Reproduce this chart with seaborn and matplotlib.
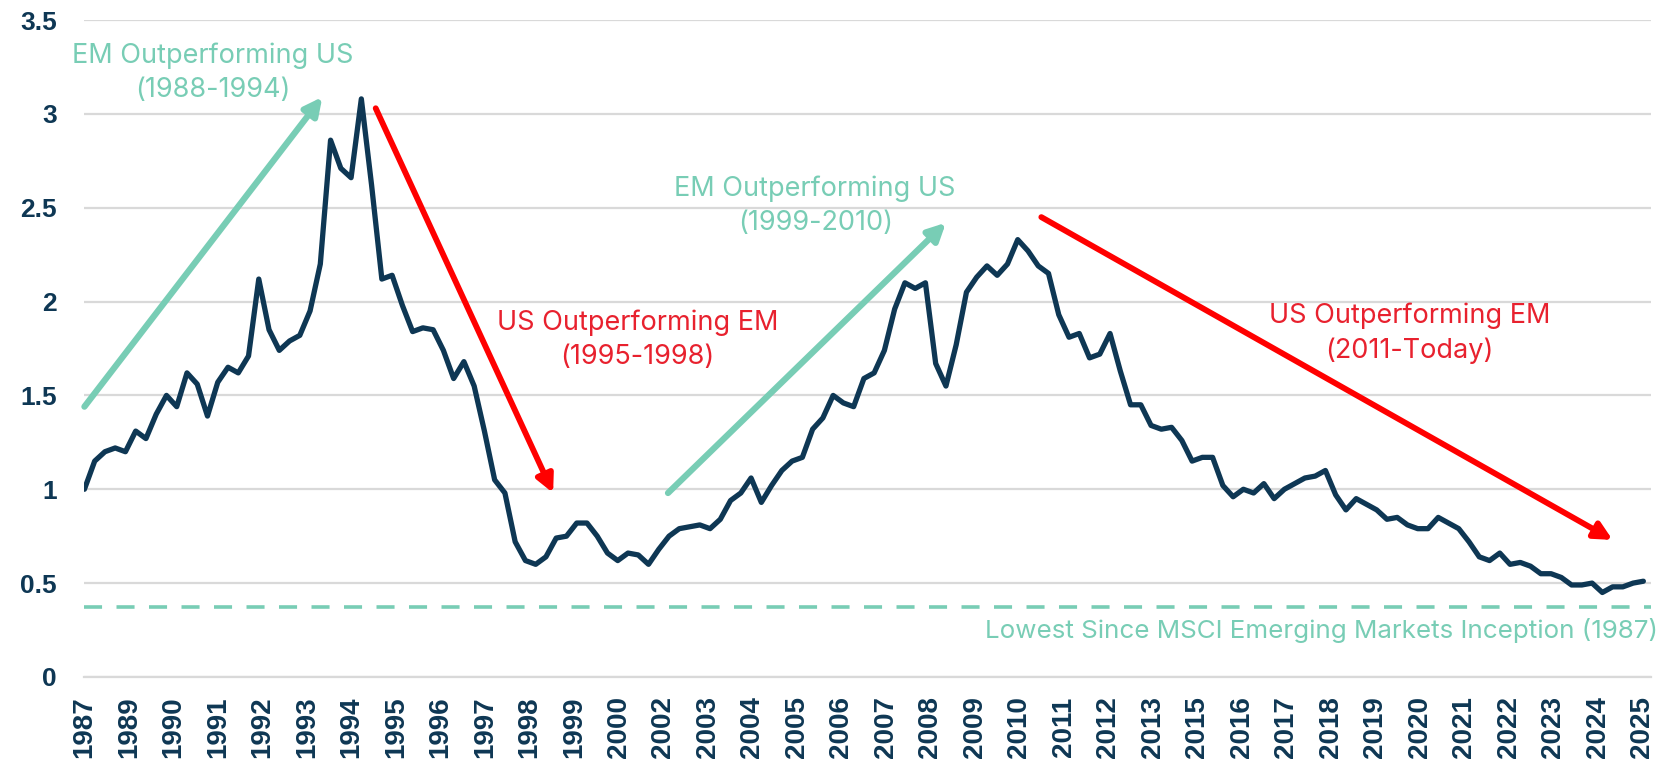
import numpy as np
import pandas as pd
import matplotlib
matplotlib.use("Agg")
import matplotlib.pyplot as plt
import seaborn as sns

sns.set_style("white")
plt.rcParams['font.family'] = ['Inter', 'DejaVu Sans']

# quarterly ratio, 1987Q1 .. 2025Q1
ratio = [
    1.00, 1.15, 1.20, 1.22, 1.20, 1.31, 1.27, 1.40, 1.50, 1.44,
    1.62, 1.56, 1.39, 1.57, 1.65, 1.62, 1.71, 2.12, 1.85, 1.74,
    1.79, 1.82, 1.95, 2.20, 2.86, 2.71, 2.66, 3.08, 2.62, 2.12,
    2.14, 1.98, 1.84, 1.86, 1.85, 1.74, 1.59, 1.68, 1.55, 1.31,
    1.05, 0.98, 0.72, 0.62, 0.60, 0.64, 0.74, 0.75, 0.82, 0.82,
    0.75, 0.66, 0.62, 0.66, 0.65, 0.60, 0.68, 0.75, 0.79, 0.80,
    0.81, 0.79, 0.84, 0.94, 0.98, 1.06, 0.93, 1.02, 1.10, 1.15,
    1.17, 1.32, 1.38, 1.50, 1.46, 1.44, 1.59, 1.62, 1.74, 1.96,
    2.10, 2.07, 2.10, 1.67, 1.55, 1.77, 2.05, 2.13, 2.19, 2.14,
    2.20, 2.33, 2.27, 2.19, 2.15, 1.93, 1.81, 1.83, 1.70, 1.72,
    1.83, 1.63, 1.45, 1.45, 1.34, 1.32, 1.33, 1.26, 1.15, 1.17,
    1.17, 1.02, 0.96, 1.00, 0.98, 1.03, 0.95, 1.00, 1.03, 1.06,
    1.07, 1.10, 0.97, 0.89, 0.95, 0.92, 0.89, 0.84, 0.85, 0.81,
    0.79, 0.79, 0.85, 0.82, 0.79, 0.72, 0.64, 0.62, 0.66, 0.60,
    0.61, 0.59, 0.55, 0.55, 0.53, 0.49, 0.49, 0.50, 0.45, 0.48,
    0.48, 0.50, 0.51,
]
year_labels = ['1987'] + [str(y) for y in range(1989, 2001)] + \
    [str(y) for y in range(2002, 2014)] + [str(y) for y in range(2015, 2026)]
inception_low = 0.375

df = pd.DataFrame({'q': np.arange(len(ratio)), 'ratio': ratio})

navy = '#0E3754'
teal = '#78CDB5'
red_arrow = '#FF0000'
red_text = '#E8212E'

fig = plt.figure(figsize=(16.75, 7.71), dpi=100)
ax = fig.add_axes([0.0504, 0.122, 0.935, 0.852])

ax.yaxis.grid(True, color='#D9D9D9', lw=1.6)
ax.set_axisbelow(True)

sns.lineplot(data=df, x='q', y='ratio', color=navy, lw=3.8, ax=ax, zorder=5)

ax.axhline(inception_low, color=teal, lw=2.6, ls=(0, (5, 4)), zorder=3)
ax.text(153.4, 0.25, 'Lowest Since MSCI Emerging Markets Inception (1987)',
        color=teal, fontsize=18.7, ha='right', va='center', clip_on=False)

arrow_kw = dict(arrowstyle='-|>', mutation_scale=26, shrinkA=0, shrinkB=0)
ax.annotate('', xy=(23.2, 3.09), xytext=(0, 1.44),
            arrowprops=dict(color=teal, lw=4.5, **arrow_kw), zorder=4)
ax.annotate('', xy=(45.7, 0.98), xytext=(28.4, 3.03),
            arrowprops=dict(color=red_arrow, lw=4.2, **arrow_kw), zorder=4)
ax.annotate('', xy=(84.0, 2.42), xytext=(56.9, 0.98),
            arrowprops=dict(color=teal, lw=4.5, **arrow_kw), zorder=4)
ax.annotate('', xy=(149.0, 0.73), xytext=(93.3, 2.45),
            arrowprops=dict(color=red_arrow, lw=4.2, **arrow_kw), zorder=4)

txt_kw = dict(fontsize=19.5, ha='center', va='center', linespacing=1.4)
ax.text(12.5, 3.22, 'EM Outperforming US\n(1988-1994)', color=teal, **txt_kw)
ax.text(71.25, 2.51, 'EM Outperforming US\n(1999-2010)', color=teal, **txt_kw)
ax.text(53.9, 1.795, 'US Outperforming EM\n(1995-1998)', color=red_text, **txt_kw)
ax.text(129.2, 1.83, 'US Outperforming EM\n(2011-Today)', color=red_text, **txt_kw)

ax.set_xlim(0, 152.7)
ax.set_ylim(0, 3.5)
ax.set_yticks([0, 0.5, 1, 1.5, 2, 2.5, 3, 3.5])
ax.set_yticklabels(['0', '0.5', '1', '1.5', '2', '2.5', '3', '3.5'])
ax.set_xticks(np.linspace(0, 151.9, len(year_labels)))
ax.set_xticklabels(year_labels, rotation=90)
ax.set_xlabel('')
ax.set_ylabel('')

for s in ['top', 'right', 'left']:
    ax.spines[s].set_visible(False)
ax.spines['bottom'].set_color('#D9D9D9')
ax.spines['bottom'].set_linewidth(1.6)

ax.tick_params(axis='x', length=9, width=1.6, color='#D9D9D9', pad=5)
ax.tick_params(axis='y', length=0, pad=20)
for lab in ax.get_xticklabels() + ax.get_yticklabels():
    lab.set_fontfamily(['Liberation Sans', 'DejaVu Sans'])
    lab.set_fontweight('bold')
    lab.set_color(navy)
for lab in ax.get_xticklabels():
    lab.set_fontsize(20)
for lab in ax.get_yticklabels():
    lab.set_fontsize(19)

fig.savefig('out.png', dpi=100)
